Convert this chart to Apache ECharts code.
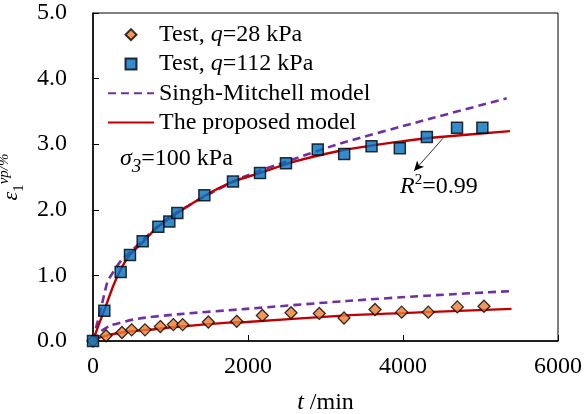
<!DOCTYPE html>
<html>
<head>
<meta charset="utf-8">
<script src="https://cdn.jsdelivr.net/npm/echarts@6/dist/echarts.min.js"></script>
<style>
html,body{margin:0;padding:0;background:#fff;}
#c{width:584px;height:414px;}
</style>
</head>
<body>
<div id="c"></div>
<script>
// Test data, q = 28 kPa
var t28 = [0, 168, 374, 499, 671, 869, 1037, 1157, 1488, 1854, 2185, 2555, 2920, 3239, 3639, 3983, 4326, 4701, 5045];
var e28 = [0, 0.08, 0.13, 0.17, 0.17, 0.22, 0.25, 0.25, 0.29, 0.30, 0.39, 0.43, 0.42, 0.35, 0.48, 0.44, 0.44, 0.52, 0.53];
// Test data, q = 112 kPa
var t112 = [0, 146, 357, 477, 641, 843, 985, 1088, 1437, 1806, 2155, 2490, 2900, 3241, 3594, 3959, 4308, 4697, 5024];
var e112 = [0, 0.46, 1.05, 1.31, 1.52, 1.74, 1.82, 1.95, 2.22, 2.43, 2.56, 2.71, 2.92, 2.85, 2.97, 2.94, 3.11, 3.25, 3.25];
// Singh-Mitchell model curves
var tSM112 = [0, 22, 65, 107, 151, 194, 365, 494, 645, 817, 1000, 1437, 1940, 2585, 3187, 4262, 5338];
var eSM112 = [0, 0.12, 0.32, 0.52, 0.74, 0.92, 1.23, 1.37, 1.54, 1.73, 1.90, 2.20, 2.50, 2.77, 3.01, 3.36, 3.70];
var tSM28 = [0, 40, 107, 236, 581, 1123, 1983, 3273, 4300, 5380];
var eSM28 = [0, 0.05, 0.15, 0.24, 0.34, 0.41, 0.49, 0.61, 0.69, 0.76];
// Proposed model curves
var tPM112 = [0, 65, 146, 258, 344, 473, 645, 817, 1000, 1437, 1806, 2155, 2585, 3187, 3600, 3960, 4477, 5380];
var ePM112 = [0, 0.22, 0.47, 0.83, 1.06, 1.31, 1.51, 1.72, 1.88, 2.21, 2.43, 2.56, 2.73, 2.90, 2.98, 3.04, 3.11, 3.20];
var tPM28 = [0, 100, 365, 796, 1123, 1742, 1983, 3273, 4300, 5400];
var ePM28 = [0, 0.06, 0.13, 0.18, 0.22, 0.28, 0.29, 0.39, 0.44, 0.49];
// Axis settings
var xTicks = [0, 2000, 4000, 6000];
var yTicks = [0, 1, 2, 3, 4, 5];
// Annotation arrow (data coordinates)
var arrowFrom = [4516, 3.09];
var arrowTo = [4142, 2.59];

var names = ['Test, q=28 kPa', 'Test, q=112 kPa', 'Singh-Mitchell model', 'The proposed model'];
var legendText = {
  'Test, q=28 kPa': 'Test, {i|q}=28 kPa',
  'Test, q=112 kPa': 'Test, {i|q}=112 kPa',
  'Singh-Mitchell model': 'Singh-Mitchell model',
  'The proposed model': 'The proposed model'
};

function zip(a, b) { return a.map(function (v, i) { return [v, b[i]]; }); }

var FONT = "'Liberation Serif', 'Times New Roman', serif";
var FS = 24;

// legend icons whose bounding box spans the whole 46x12 item box
var diamondIcon = 'path://M0,0L0,0M46,12L46,12M23,0.5L28.5,6L23,11.5L17.5,6Z';
var squareIcon = 'path://M0,0L0,0M46,12L46,12M17.5,0.5L28.5,0.5L28.5,11.5L17.5,11.5Z';
var hidden = { color: 'rgba(0,0,0,0)', borderWidth: 0, opacity: 0 };

var chart = echarts.init(document.getElementById('c'), null, { renderer: 'canvas' });
chart.setOption({
  animation: false,
  backgroundColor: '#fff',
  textStyle: { fontFamily: FONT, color: '#000' },
  grid: { left: 93, right: 26, top: 13, bottom: 73, show: true, borderColor: '#000', borderWidth: 1, containLabel: false, outerBoundsMode: 'none' },
  legend: {
    data: [
      { name: names[0], icon: diamondIcon },
      { name: names[1], icon: squareIcon },
      { name: names[2], itemStyle: hidden },
      { name: names[3], itemStyle: hidden }
    ],
    orient: 'vertical',
    left: 102,
    top: 15,
    padding: 5,
    itemWidth: 46,
    itemHeight: 12,
    itemGap: 0,
    formatter: function (n) { return legendText[n]; },
    textStyle: {
      fontFamily: FONT, fontSize: FS, color: '#000', lineHeight: 29.3,
      rich: { i: { fontFamily: FONT, fontSize: FS, fontStyle: 'italic', color: '#000', lineHeight: 29.3 } }
    }
  },
  xAxis: {
    type: 'value', min: xTicks[0], max: xTicks[xTicks.length - 1], interval: 2000,
    name: '{i|t} /min', nameLocation: 'middle', nameGap: 50,
    nameTextStyle: {
      fontFamily: FONT, fontSize: FS, color: '#000',
      rich: { i: { fontFamily: FONT, fontSize: FS, fontStyle: 'italic', color: '#000' } }
    },
    axisLine: { show: true, lineStyle: { color: '#000', width: 1.5 } },
    axisTick: { show: true, inside: true, length: 6, lineStyle: { color: '#000', width: 1 } },
    axisLabel: { fontFamily: FONT, fontSize: FS, color: '#000', margin: 14, formatter: function (v) { return String(v); } },
    splitLine: { show: false }
  },
  yAxis: {
    type: 'value', min: yTicks[0], max: yTicks[yTicks.length - 1], interval: 1,
    name: '{e|ε}{sub|1}{sup|vp/%}', nameLocation: 'middle', nameGap: 64, nameRotate: 90,
    nameTextStyle: {
      fontFamily: FONT, color: '#000',
      rich: {
        e: { fontFamily: FONT, fontSize: 22, fontStyle: 'italic', color: '#000', lineHeight: 30, verticalAlign: 'middle' },
        sub: { fontFamily: FONT, fontSize: 15, color: '#000', lineHeight: 30, verticalAlign: 'bottom' },
        sup: { fontFamily: FONT, fontSize: 15, fontStyle: 'italic', color: '#000', lineHeight: 30, verticalAlign: 'top' }
      }
    },
    axisLine: { show: true, lineStyle: { color: '#000', width: 1.5 } },
    axisTick: { show: true, inside: true, length: 6, lineStyle: { color: '#000', width: 1 } },
    axisLabel: { fontFamily: FONT, fontSize: FS, color: '#000', margin: 26, formatter: function (v) { return v.toFixed(1); } },
    splitLine: { show: false }
  },
  graphic: [
    {
      type: 'text', left: 120, top: 147, z: 100,
      style: {
        text: '{i|σ}{s|3}{n|=100 kPa}', fill: '#000', font: FS + 'px ' + FONT,
        rich: {
          i: { fontFamily: FONT, fontSize: FS, fontStyle: 'italic', fill: '#000', lineHeight: 26, verticalAlign: 'middle' },
          s: { fontFamily: FONT, fontSize: 19, fontStyle: 'italic', fill: '#000', lineHeight: 34, verticalAlign: 'bottom' },
          n: { fontFamily: FONT, fontSize: FS, fill: '#000', lineHeight: 26, verticalAlign: 'middle' }
        }
      }
    },
    {
      type: 'text', left: 400, top: 173, z: 100,
      style: {
        text: '{i|R}{p|2}{n|=0.99}', fill: '#000', font: FS + 'px ' + FONT,
        rich: {
          i: { fontFamily: FONT, fontSize: FS, fontStyle: 'italic', fill: '#000', lineHeight: 26, verticalAlign: 'middle' },
          p: { fontFamily: FONT, fontSize: 15, fill: '#000', lineHeight: 28, verticalAlign: 'top' },
          n: { fontFamily: FONT, fontSize: FS, fill: '#000', lineHeight: 26, verticalAlign: 'middle' }
        }
      }
    }
  ],
  series: [
    {
      name: names[2], type: 'line', data: zip(tSM28, eSM28), smooth: 0.25, symbol: 'none', z: 2,
      lineStyle: { color: '#7030A0', width: 2.6, type: [8, 5] }, itemStyle: { color: '#7030A0' }
    },
    {
      name: names[2], type: 'line', data: zip(tSM112, eSM112), smooth: 0.25, symbol: 'none', z: 2,
      lineStyle: { color: '#7030A0', width: 2.6, type: [8, 5] }, itemStyle: { color: '#7030A0' }
    },
    {
      name: names[3], type: 'line', data: zip(tPM28, ePM28), smooth: 0.25, symbol: 'none', z: 2,
      lineStyle: { color: '#C00000', width: 2.4 }, itemStyle: { color: '#C00000' }
    },
    {
      name: names[3], type: 'line', data: zip(tPM112, ePM112), smooth: 0.25, symbol: 'none', z: 2,
      lineStyle: { color: '#C00000', width: 2.4 }, itemStyle: { color: '#C00000' },
      markLine: {
        silent: true, symbol: ['none', 'arrow'], symbolSize: [7, 10],
        label: { show: false },
        lineStyle: { color: '#000', width: 0.8, type: 'solid' },
        data: [[{ coord: arrowFrom }, { coord: arrowTo }]]
      }
    },
    {
      name: names[0], type: 'scatter', data: zip(t28, e28), symbol: 'diamond', symbolSize: 12, z: 5,
      itemStyle: { color: '#ED7D31', borderColor: '#000', borderWidth: 1.3 }
    },
    {
      name: names[1], type: 'scatter', data: zip(t112, e112), symbol: 'rect', symbolSize: 11, z: 6,
      itemStyle: { color: '#0070C0', borderColor: '#000', borderWidth: 1.5 }
    }
  ]
});
</script>
</body>
</html>
